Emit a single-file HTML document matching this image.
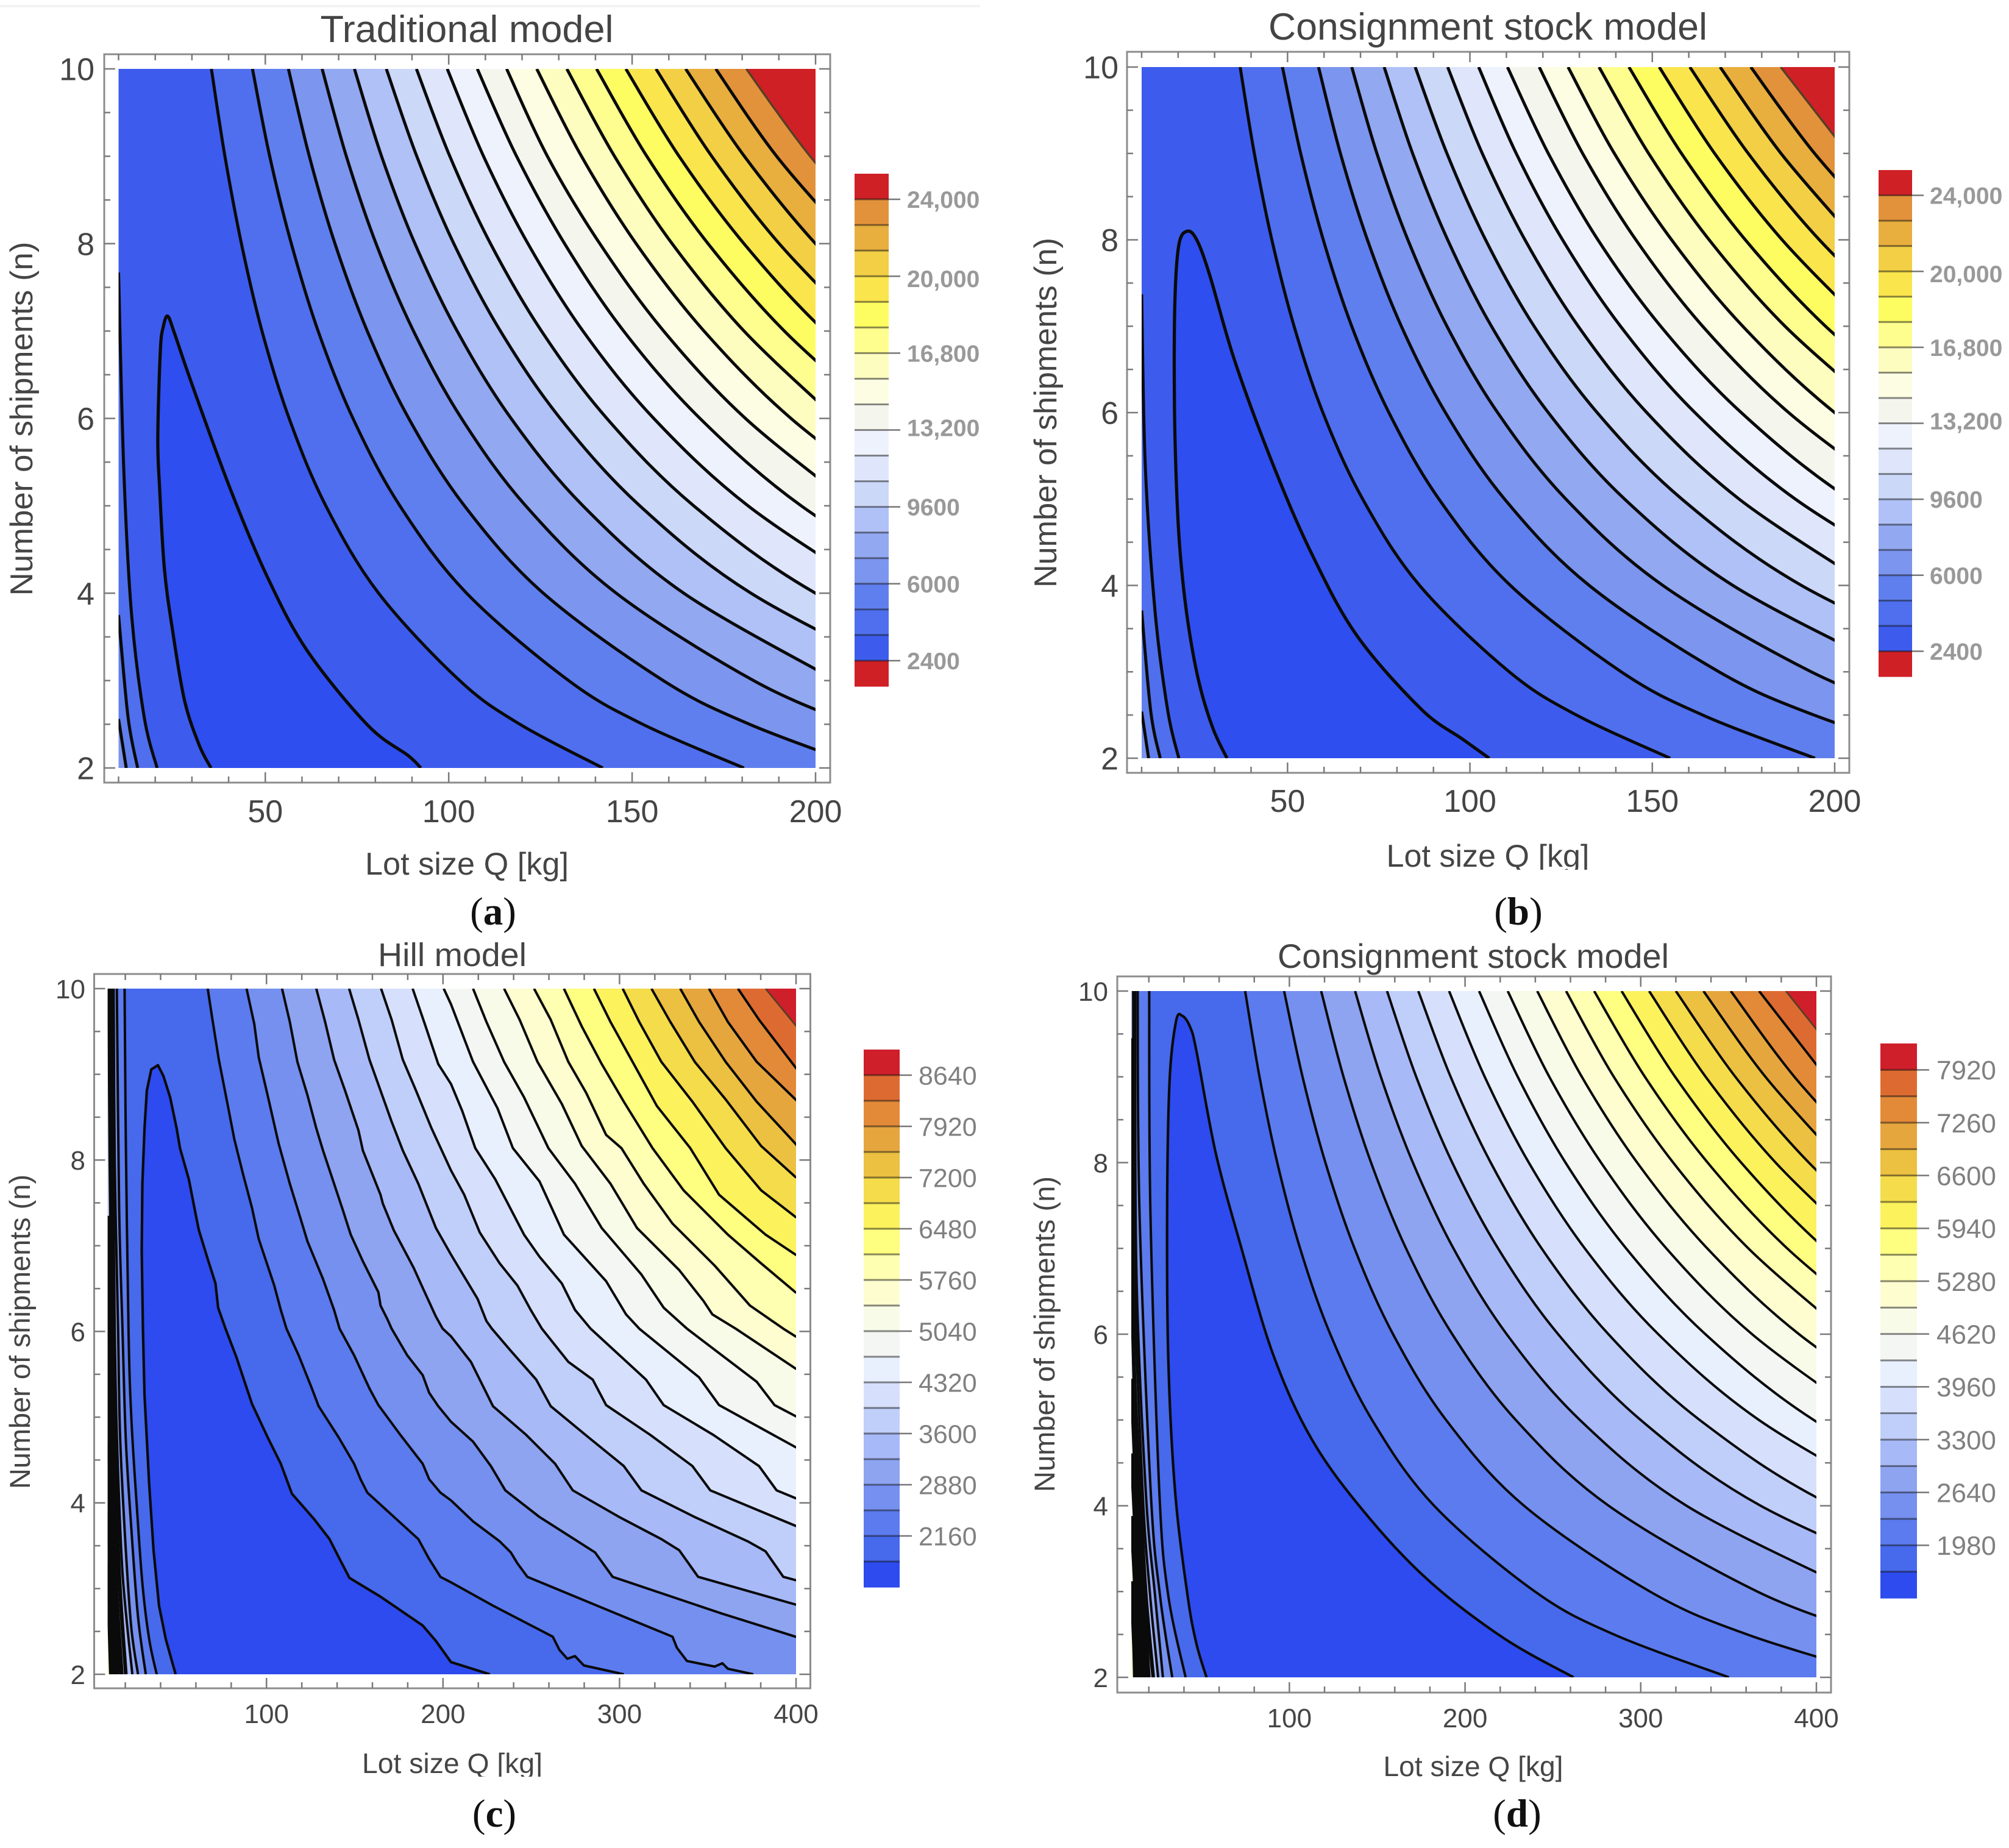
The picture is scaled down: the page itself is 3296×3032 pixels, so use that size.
<!DOCTYPE html>
<html lang="en">
<head>
<meta charset="utf-8">
<title>Contour plots of total cost by lot size and number of shipments</title>
<style>
html,body{margin:0;padding:0;background:#fff;}
svg{display:block;}
text{font-family:"Liberation Sans",sans-serif;}
.ttl{fill:#444;}
.axl{fill:#454545;}
.cap{font-family:"Liberation Serif",serif;fill:#111;font-size:65px;}
</style>
</head>
<body>
<svg id="chart" xmlns="http://www.w3.org/2000/svg" width="3296" height="3032" viewBox="0 0 3296 3032">
<defs>
<clipPath id="clip-a"><rect x="194.5" y="113" width="1143.5" height="1147"/></clipPath>
<clipPath id="clip-b"><rect x="1873" y="110" width="1137" height="1134"/></clipPath>
<clipPath id="clip-c"><rect x="176.6" y="1622" width="1129.4" height="1125"/></clipPath>
<clipPath id="clip-d"><rect x="1856" y="1626" width="1124" height="1126"/></clipPath>
<clipPath id="clip-label-b"><rect x="2200" y="1370" width="500" height="57"/></clipPath>
<clipPath id="clip-label-c"><rect x="500" y="2860" width="500" height="55"/></clipPath>
</defs>
<rect x="0" y="8" width="1608" height="4" fill="#f3f3f3"/>

<g id="panel-a">
<text class="ttl" x="766" y="69" font-size="62" text-anchor="middle" textLength="481" lengthAdjust="spacingAndGlyphs">Traditional model</text>
<text class="axl" x="766" y="1435" font-size="52" text-anchor="middle" textLength="334" lengthAdjust="spacingAndGlyphs">Lot size Q [kg]</text>
<text class="axl" transform="translate(53 687) rotate(-90)" font-size="52" text-anchor="middle" textLength="581" lengthAdjust="spacingAndGlyphs">Number of shipments (n)</text>
<text class="cap" x="809" y="1517" text-anchor="middle">(<tspan font-weight="bold">a</tspan>)</text>
</g>
<g id="panel-b">
<text class="ttl" x="2441" y="65" font-size="62" text-anchor="middle" textLength="720" lengthAdjust="spacingAndGlyphs">Consignment stock model</text>
<text class="axl" x="2441" y="1422" font-size="52" text-anchor="middle" textLength="333" lengthAdjust="spacingAndGlyphs" clip-path="url(#clip-label-b)">Lot size Q [kg]</text>
<text class="axl" transform="translate(1733 677) rotate(-90)" font-size="52" text-anchor="middle" textLength="574" lengthAdjust="spacingAndGlyphs">Number of shipments (n)</text>
<text class="cap" x="2491" y="1517" text-anchor="middle">(<tspan font-weight="bold">b</tspan>)</text>
</g>
<g id="panel-c">
<text class="ttl" x="742" y="1585" font-size="54" text-anchor="middle" textLength="244" lengthAdjust="spacingAndGlyphs">Hill model</text>
<text class="axl" x="742" y="2909" font-size="46" text-anchor="middle" textLength="296" lengthAdjust="spacingAndGlyphs" clip-path="url(#clip-label-c)">Lot size Q [kg]</text>
<text class="axl" transform="translate(49 2185) rotate(-90)" font-size="47" text-anchor="middle" textLength="516" lengthAdjust="spacingAndGlyphs">Number of shipments (n)</text>
<text class="cap" x="811" y="2997" text-anchor="middle">(<tspan font-weight="bold">c</tspan>)</text>
</g>
<g id="panel-d">
<text class="ttl" x="2417" y="1588" font-size="56" text-anchor="middle" textLength="642" lengthAdjust="spacingAndGlyphs">Consignment stock model</text>
<text class="axl" x="2417" y="2914" font-size="46" text-anchor="middle" textLength="295" lengthAdjust="spacingAndGlyphs">Lot size Q [kg]</text>
<text class="axl" transform="translate(1730 2189) rotate(-90)" font-size="47" text-anchor="middle" textLength="518" lengthAdjust="spacingAndGlyphs">Number of shipments (n)</text>
<text class="cap" x="2489" y="2997" text-anchor="middle">(<tspan font-weight="bold">d</tspan>)</text>
</g>
</svg>
<script>
// Shipment counts at which each contour's lot size Q was read
const nGrid = [10,9,8,7,6,5,4,3,2.5,2];

// Panel a: Q per contour, lowest level first
const tradContours = [
[35.3,39,43.5,49.1,56.5,66.5,80.9,103,119.4,142],
[46.5,51.2,57.1,64.4,73.9,86.7,104.9,132.7,152.9,180.5],
[56.3,62,69,77.8,89.1,104.3,125.8,158.5,182,213.9],
[65.5,72.1,80.2,90.4,103.5,121,145.7,183.1,210],
[74.3,81.7,90.8,102.3,117,136.6,164.1,205.6],
[83,91.3,101.4,114.1,130.4,152.1,182.4,227.9],
[91.2,100.3,111.4,125.3,143.1,166.8,200,249.6],
[99.6,109.5,121.6,136.6,155.9,181.6,217.3],
[107.8,118.5,131.6,147.7,168.5,196.1,234.4],
[115.8,126.9,141.2,158.6,180.9,210.5],
[124,136.2,151.1,169.6,193.3,224.7],
[132.2,145.2,160.9,180.5,205.6],
[140.3,154,170.7,191.5,218],
[148.3,162.8,180.5,202.4,230.5],
[156.5,171.7,190.1,213],
[164.6,180.6,200,224.1],
[172.8,189.4,210.2],
[181.1,198.5,219.5]
];
const tradLoop = [[92.4,2],[89,2.14],[77.9,2.49],[61.3,3.35],[50.3,4.21],[40.3,5.21],[30.1,6.38],[25.2,6.98],[23.4,7.17],[22.2,7.05],[21.4,6.78],[20.7,5.78],[21.2,5.2],[22.5,4.28],[24.7,3.58],[28,2.77],[32,2.26],[35.2,2]];
const tradLeft = [
[[10,7.67],[11.4,5.45],[13.5,3.78],[17,2.58],[20.5,2]],
[[10,3.75],[12.6,2.58],[15.2,2]],
[[10,2.56],[12.1,2]]
];
const tradBarLabels = ['24,000','20,000','16,800','13,200','9600','6000','2400'];

// Panel b
const csAContours = [
[37,40.9,45.7,51.8,59.7,70.6,86.2,110.8,129.2,154.9],
[48.6,53.6,59.8,67.6,77.8,91.5,111.1,141.5,163.8,194.6],
[58.5,64.5,71.9,81.2,93.3,109.5,132.7,168.3,194.3,229.9],
[67.6,74.5,83,93.7,107.6,126.3,152.9,193.6,223.4],
[76.5,84.3,93.9,105.9,121.5,142.4,172.1,217.4],
[85,93.7,104.3,117.6,134.9,158.1,190.9,240.8],
[93.9,103.4,115.1,129.7,148.5,173.8,209.4],
[102.4,112.7,125.4,141.3,161.7,189.2,227.8],
[110.3,121.5,135.1,152.3,174.4,204.1,245.9],
[119,130.9,145.5,163.8,187.4,218.8],
[126.9,139.6,155.3,174.8,200,233.7],
[135.4,149,165.6,186.4,213.2],
[143.6,158,175.5,197.5,225.8],
[151.9,167.1,185.6,208.7],
[160.3,176.3,195.8,220.2],
[168.6,185.3,205.7],
[177,194.5,215.8],
[185.2,203.6]
];
const csALoop = [[105.3,2],[98,2.22],[86.6,2.57],[69,3.42],[56.7,4.36],[46.2,5.38],[35.6,6.59],[28.6,7.6],[25.1,8],[22.5,8.1],[20.2,7.94],[19.1,7.27],[19,6.05],[19.6,5.1],[20.6,4.36],[22.6,3.6],[25.6,2.9],[29.5,2.35],[33.4,2]];
const csALeft = [
[[10,7.37],[11,5.38],[13.7,3.69],[17.2,2.54],[20.2,2]],
[[10,3.71],[12.5,2.54],[15.1,2]],
[[10,2.54],[11.9,2]]
];
const csABarLabels = ['24,000','20,000','16,800','13,200','9600','6000','2400'];

// Panel c: [Q, n] points per contour, lowest level first
const hillContours = [
[[66.7,10],[69.2,9.663],[73,9.172],[77.4,8.707],[81.8,8.241],[86.8,7.828],[91.8,7.44],[95.6,7.078],[104.4,6.535],[108.1,6.25],[111.3,6.033],[118.2,5.723],[125.7,5.335],[129.5,5.128],[140.8,4.766],[149.6,4.456],[153.3,4.275],[157.1,4.12],[170.9,3.861],[186,3.577],[192.2,3.344],[198.5,3.137],[204.5,3.073],[228.3,2.801],[262.2,2.439],[266,2.284],[270.4,2.181],[274.8,2.212],[279.8,2.103],[302.4,2]],
[[88.7,10],[93.1,9.586],[95.6,9.198],[100.6,8.758],[106.9,8.19],[113.2,7.724],[119.4,7.31],[123.2,7.052],[132,6.613],[138.3,6.25],[141.4,6.033],[149.6,5.723],[158.3,5.335],[163.4,5.141],[175.9,4.792],[188.5,4.456],[192.2,4.275],[198.5,4.12],[204.5,4.029],[217,3.784],[232.1,3.551],[238.4,3.422],[242.2,3.293],[247.8,3.137],[302.4,2.672],[330,2.439],[332.5,2.31],[338.2,2.155],[353.9,2.09],[358.3,2.129],[361.4,2.065],[375.8,2]],
[[108.8,10],[113.2,9.612],[117.5,9.146],[123.2,8.758],[128.2,8.37],[132,8.112],[138.3,7.724],[143.3,7.414],[147.7,7.13],[154.6,6.819],[163.4,6.457],[164.6,6.302],[168.4,6.147],[170.9,6.033],[179.7,5.723],[188.5,5.49],[192.2,5.283],[197.3,5.128],[204.5,4.947],[217,4.714],[227.1,4.43],[235.3,4.146],[254.7,3.835],[286.1,3.422],[296.1,3.137],[357.6,2.711],[399.7,2.439],[405,2.4]],
[[128.2,10],[133.2,9.612],[138.3,9.172],[144.5,8.81],[152.1,8.345],[154.6,8.112],[164.6,7.595],[165.9,7.492],[172.1,7.181],[183.4,6.742],[188.5,6.509],[196,6.173],[199.8,6.033],[204.5,5.943],[215.8,5.645],[223.3,5.335],[228.3,5.128],[247.2,4.792],[263.5,4.456],[273.5,4.146],[299.9,3.835],[323.7,3.577],[333.8,3.448],[344.5,3.137],[399.7,2.814],[405,2.8]],
[[146.8,10],[152.1,9.637],[158.3,9.172],[164.6,8.81],[170.9,8.448],[177.2,8.112],[186,7.724],[196,7.207],[204.5,6.897],[219.6,6.38],[224.6,6.121],[227.7,6.033],[238.4,5.774],[252.8,5.438],[261,5.128],[282.3,4.766],[302.4,4.43],[312.4,4.146],[342.6,3.835],[372.7,3.551],[382.7,3.435],[392.8,3.137],[399.7,3.099],[405,3.08]],
[[164.9,10],[170.9,9.637],[177.2,9.172],[184.7,8.81],[193.5,8.37],[204.5,7.879],[212,7.595],[220.8,7.155],[232.1,6.794],[242.2,6.535],[249.7,6.251],[256,6.033],[271,5.645],[284.8,5.438],[292.4,5.141],[317.5,4.792],[341.3,4.43],[351.4,4.146],[399.7,3.732],[405,3.7]],
[[182.8,10],[189.7,9.586],[197.3,9.12],[204.5,8.888],[210.8,8.577],[218.3,8.138],[229.6,7.776],[245.9,7.13],[254.7,6.871],[267.3,6.561],[274.8,6.251],[283.6,6.033],[315,5.438],[325,5.141],[353.2,4.792],[379,4.43],[389,4.146],[399.7,4.055],[405,4.03]],
[[200.4,10],[204.5,9.818],[217,9.146],[230.9,8.603],[239.6,8.138],[254.7,7.75],[268.5,7.13],[292.4,6.587],[303.7,6.199],[311.2,6.033],[345.1,5.464],[356.4,5.141],[399.7,4.65],[405,4.62]],
[[217,10],[224.6,9.611],[234.6,9.146],[245.9,8.733],[259.7,8.138],[274.8,7.724],[289.9,7.207],[312.4,6.664],[325,6.277],[338.2,6.033],[377.7,5.413],[387.8,5.141],[399.7,5.012],[405,4.97]],
[[234.6,10],[243.4,9.637],[253.5,9.146],[267.3,8.655],[278.6,8.164],[294.9,7.724],[309.9,7.207],[333.8,6.716],[347.6,6.354],[352.6,6.199],[365.8,6.033],[399.7,5.568],[405,5.53]],
[[251.6,10],[261,9.637],[271,9.146],[281.1,8.784],[292.4,8.293],[301.1,8.138],[313.7,7.724],[330,7.259],[353.9,6.768],[373.9,6.302],[392.8,6.033],[399.7,5.943],[405,5.9]],
[[268.5,10],[278.6,9.56],[289.9,9.12],[302.4,8.681],[318.7,8.138],[336.3,7.647],[361.4,7.129],[380.2,6.794],[399.7,6.457],[405,6.41]],
[[285.5,10],[294.9,9.611],[307.4,9.146],[321.2,8.629],[340.1,8.138],[356.4,7.595],[382.7,7.13],[399.7,6.897],[405,6.85]],
[[301.8,10],[311.2,9.611],[323.7,9.146],[341.3,8.681],[360.1,8.138],[380.2,7.647],[399.7,7.336],[405,7.29]],
[[318.1,10],[328.8,9.611],[342.6,9.146],[360.1,8.707],[380.2,8.164],[399.7,7.802],[405,7.76]],
[[334.4,10],[345.1,9.611],[360.1,9.146],[377.7,8.681],[399.7,8.19],[405,8.05]],
[[350.7,10],[361.4,9.611],[377.7,9.146],[399.7,8.707],[405,8.6]],
[[367.1,10],[379,9.637],[399.7,9.081],[405,8.95]],
[[382.7,10],[399.7,9.573],[405,9.44]]
];
const hillLoop = [[226.5,2],[204.5,2.142],[196,2.388],[188.5,2.569],[164.6,2.905],[147,3.125],[140.8,3.37],[135.7,3.577],[127,3.81],[114.4,4.107],[108.1,4.456],[100.6,4.766],[91.8,5.154],[88,5.387],[83,5.697],[76.8,6.033],[72.6,6.276],[71.1,6.561],[66.7,6.845],[61.7,7.181],[60.4,7.31],[56,7.776],[51,8.138],[49.1,8.37],[45.4,8.733],[41.6,8.98],[38.5,9.107],[34.7,9.056],[32.2,8.81],[30.9,8.37],[29.7,7.724],[29.3,6.949],[30,6.033],[30.9,5.257],[33.5,4.223],[36,3.448],[39.1,2.801],[42.9,2.413],[48.5,2]];
const hillLeft = [
[[19.6,10],[20.3,8.24],[21.8,6.033],[23.4,5],[26.5,3.965],[29.7,3.06],[33.5,2.413],[37.8,2]],
[[15.2,10],[16.5,7.46],[18.4,6.033],[20.3,4.74],[23.4,3.706],[27.2,2.672],[31.6,2]],
[[13.4,10],[14,7.98],[15.9,6.033],[17.1,4.74],[20.3,3.448],[23.4,2.543],[27.2,2]],
[[12.1,10],[13,8],[14,6.033],[15.3,4.74],[18.4,3.19],[24,2]],
[[10.9,10],[11.5,8],[12.7,6.033],[14,4.74],[16.5,3.19],[20.3,2]],
[[10,7.35],[11,6.03],[12.5,4.7],[14.5,3.2],[18,2]],
[[10,6],[10.8,4.7],[13,3.2],[16,2]],
[[10,4.7],[11.5,3.2],[14.5,2]],
[[10,3.9],[10.8,3],[13,2]],
[[10,3.3],[11.8,2]]
];
const hillBarLabels = ['8640','7920','7200','6480','5760','5040','4320','3600','2880','2160'];

// Panel d
const csBContours = [
[74.8,83,93.1,106.1,123.3,147.1,182.4,239.8,284.7,350.2],
[97,107.5,120.5,137.1,159,189.2,233.6,305.3,360.6,440],
[118.1,130.8,146.5,166.4,192.7,228.9,281.8,366.4,431],
[137.4,152.1,170.3,193.4,223.7,265.4,326.1,422.8],
[155.6,172.2,192.7,218.8,253,300,368.3,477],
[173.4,191.8,214.6,243.6,281.6,333.6,409.3,529],
[190.9,211.2,236.3,268.2,310,367.3,450.6],
[208,230,257.2,291.7,336.8,398.5,487.9],
[224.3,248,277.4,314.6,363.4,430.1],
[241.1,266.5,298,337.9,390.1,461.4],
[257.5,284.7,318.5,361.3,417.4],
[273.5,302.4,338.1,383.4,442.6],
[289.1,319.6,357.2,404.8,467],
[304.8,337,376.8,427.3],
[320,353.9,395.7,448.9],
[335.7,371,414.6],
[351.3,387.5,432],
[367.4,405.4],
[382.6,421.6]
];
const csBLoop = [[261.8,2],[221.8,2.46],[178.1,3.15],[141.7,3.95],[112.6,4.78],[90.8,5.76],[72.6,7.01],[58,8.12],[47.1,9.3],[43.5,9.58],[39.1,9.71],[35.5,9.65],[31.8,8.95],[30.4,7.42],[31.1,5.69],[35,4.15],[42,2.96],[47,2.4],[52.8,2]];
const csBLeft = [
[[20.2,10],[20.9,7.42],[26,4.15],[31,2.96],[40.9,2]],
[[13.6,10],[14.7,7.42],[21.1,4.15],[26.3,2.96],[33.3,2]],
[[12.2,10],[12.9,6.73],[18.3,4.15],[23.5,2.96],[28,2]],
[[11.1,10],[11.8,6.73],[16.5,4.15],[20.7,2.96],[25.3,2]],
[[10,9.45],[11.1,6.03],[15,4.15],[18.3,2.96],[22.5,2]],
[[10,6.9],[12,5.2],[14,4.15],[17,2.96],[20,2]],
[[10,5.48],[12.8,4.15],[15.8,2.96],[18,2]],
[[10,4.61],[11.2,4.15],[14,2.96],[16,2]],
[[10,3.88],[12.3,2.96],[14,2]],
[[10,3.12],[11.5,2.4],[12,2]]
];
const csBBarLabels = ['7920','7260','6600','5940','5280','4620','3960','3300','2640','1980'];

// Axis tick labels
const yTickValues = [2,4,6,8,10];
const xTicksSmall = [50,100,150,200];
const xTicksLarge = [100,200,300,400];

// Colour bands, lowest level first
const paletteAB = ['#2f4eef','#3d5cee','#4f6fee','#607fee','#7c95ee','#92a8f0','#afc1f6','#cbd8f8','#dfe6fb','#eef2fd','#f4f6ee','#fcfde3','#fdfdc0','#fefe8f','#fdfd62','#fbe54d','#f2cf45','#e8ae3e','#e2923b','#cf2026'];
const paletteCD = ['#2d4bee','#4769ec','#5c7bee','#7590ef','#8ea4f0','#a8b9f7','#c0cffa','#d6e0fc','#e8f0fe','#f4f6f4','#f8fbe8','#fdfdd0','#feffb0','#fefe80','#fcf25c','#f5dc4a','#ecc040','#e6a63e','#e28a38','#dd6b31','#cf1f2a'];

const NS = 'http://www.w3.org/2000/svg';
function make(tag, attrs, parent){
  const e = document.createElementNS(NS, tag);
  for (const k in attrs) e.setAttribute(k, attrs[k]);
  parent.appendChild(e);
  return e;
}
function smooth(pts){
  let d = 'M' + pts[0][0].toFixed(1) + ' ' + pts[0][1].toFixed(1);
  for (let i = 0; i < pts.length - 1; i++){
    const p0 = pts[Math.max(0, i-1)], p1 = pts[i], p2 = pts[i+1], p3 = pts[Math.min(pts.length-1, i+2)];
    const c1x = p1[0] + (p2[0]-p0[0])/6, c1y = p1[1] + (p2[1]-p0[1])/6;
    const c2x = p2[0] - (p3[0]-p1[0])/6, c2y = p2[1] - (p3[1]-p1[1])/6;
    d += 'C' + c1x.toFixed(1) + ' ' + c1y.toFixed(1) + ' ' + c2x.toFixed(1) + ' ' + c2y.toFixed(1) + ' ' + p2[0].toFixed(1) + ' ' + p2[1].toFixed(1);
  }
  return d;
}
function poly(pts){
  return 'M' + pts.map(p => p[0].toFixed(1) + ' ' + p[1].toFixed(1)).join('L');
}

function drawPanel(c){
  const root = document.getElementById(c.id);
  const X = q => c.px0 + (q - 10) / (c.qMax - 10) * (c.px1 - c.px0);
  const Y = n => c.py1 - (n - 2) / 8 * (c.py1 - c.py0);
  const rowPts = row => Array.isArray(row[0]) ? row.map(p => [X(p[0]), Y(p[1])]) : row.map((q, j) => [X(q), Y(nGrid[j])]);
  const trace = c.linear ? poly : smooth;

  const frame = make('rect', {x:c.fx0, y:c.fy0, width:c.fx1-c.fx0, height:c.fy1-c.fy0, fill:'#fff', stroke:'#8c8c8c', 'stroke-width':3}, root);
  
  

  const plot = make('g', {'clip-path':'url(#' + c.clip + ')'}, root);
  
  

  const base = make('rect', {x:c.px0, y:c.py0, width:c.px1-c.px0, height:c.py1-c.py0, fill:c.palette[1]}, plot);
  
  

  const far = c.qMax * 1.6;
  c.contours.forEach((row, i) => {
    const color = c.palette[i + 2];
    const pts = rowPts(row);
    const lastY = pts[pts.length-1][1];
    const band = make('path', {d: trace(pts) + 'L' + X(far) + ' ' + lastY + 'L' + X(far) + ' ' + Y(10) + 'Z', fill: color}, plot);
    
    
    const left = c.left[i];
    if (left){
      const lp = left.map(p => [X(p[0]), Y(p[1])]);
      const lband = make('path', {d: smooth(lp) + 'L' + X(0) + ' ' + Y(2) + 'L' + X(0) + ' ' + Y(10) + 'Z', fill: color}, plot);
      
      
    }
  });
  c.contours.forEach((row, i) => {
    const pts = rowPts(row);
    const top = i === c.contours.length - 1;
    const line = make('path', {d: trace(pts), fill:'none', stroke: top ? '#5a3d26' : '#0a0a0a', 'stroke-width': top ? c.lw*0.7 : c.lw, 'stroke-linejoin':'round'}, plot);
    
    
    const left = c.left[i];
    if (left){
      const lp = left.map(p => [X(p[0]), Y(p[1])]);
      const lline = make('path', {d: smooth(lp), fill:'none', stroke:'#0a0a0a', 'stroke-width': i >= 4 ? c.lw*1.5 : c.lw}, plot);
      
      
    }
  });
  const lpts = c.loop.map(p => [X(p[0]), Y(p[1])]);
  const loopFill = make('path', {d: trace(lpts) + 'Z', fill:c.palette[0]}, plot);
  
  
  const loop = make('path', {d: trace(lpts), fill:'none', stroke:'#0a0a0a', 'stroke-width':c.lw*1.05, 'stroke-linejoin':'round'}, plot);
  
  

  // x ticks
  for (let q = c.xStep === 10 ? 10 : c.xStep; q <= c.qMax; q += c.xStep){
    const major = c.xTicks.includes(q);
    const len = major ? 17 : 10;
    [[c.fy1, c.fy1-len],[c.fy0, c.fy0+len]].forEach(s => {
      const t = make('line', {x1:X(q), x2:X(q), y1:s[0], y2:s[1], stroke:'#7a7a7a', 'stroke-width':2.5}, root);
      
      
    });
  }
  c.xTicks.forEach(q => {
    const t = make('text', {x:X(q), y:c.xLabelY, 'font-size':c.tickSize, 'text-anchor':'middle', fill:'#454545'}, root);
    
    
    t.textContent = q;
  });
  // y ticks
  for (let n = 2; n <= 10; n += 0.5){
    const major = yTickValues.includes(n);
    const len = major ? 18 : 10;
    [[c.fx0, c.fx0+len],[c.fx1, c.fx1-len]].forEach(s => {
      const t = make('line', {y1:Y(n), y2:Y(n), x1:s[0], x2:s[1], stroke:'#7a7a7a', 'stroke-width':2.5}, root);
      
      
    });
  }
  yTickValues.forEach(n => {
    const t = make('text', {x:c.yLabelX, y:Y(n) + c.tickSize*0.36, 'font-size':c.tickSize, 'text-anchor':'end', fill:'#454545'}, root);
    
    
    t.textContent = n;
  });

  // colour bar
  const bar = make('g', {}, root);
  
  
  const segs = c.barColors.length;
  const segH = c.barH / segs;
  c.barColors.forEach((col, i) => {
    const s = make('rect', {x:c.barX, y:c.barY + i*segH, width:c.barW, height:segH + 0.6, fill:col}, bar);
    
    
  });
  for (let i = 1; i < segs; i++){
    const l = make('line', {x1:c.barX, x2:c.barX+c.barW, y1:c.barY+i*segH, y2:c.barY+i*segH, stroke:'rgba(20,20,20,0.5)', 'stroke-width':3}, bar);
    
    
  }
  c.barLabels.forEach((txt, i) => {
    const yy = c.barY + (1 + i*c.barEvery)*segH;
    const tk = make('line', {x1:c.barX+c.barW, x2:c.barTickX, y1:yy, y2:yy, stroke:'#777', 'stroke-width':2.5}, bar);
    
    
    const nudge = c.barEvery === 3 ? (i === 1 ? 4 : (i === 3 ? -4 : 0)) : 0;
    const t = make('text', {x:c.barLabelX, y:yy + nudge + c.barFont*0.36, 'font-size':c.barFont, 'font-weight':c.barWeight, fill:c.barFill}, bar);
    
    
    t.textContent = txt;
  });
}

const barAB = [paletteAB[19]].concat(paletteAB.slice(1,19).reverse(), [paletteAB[19]]);
const barCD = paletteCD.slice().reverse();

drawPanel({id:'panel-a', clip:'clip-a', contours:tradContours, loop:tradLoop, left:tradLeft, palette:paletteAB, qMax:200,
  px0:194.5, px1:1338, py0:113, py1:1260, fx0:171, fx1:1362, fy0:89, fy1:1284, lw:5, xStep:10, xTicks:xTicksSmall, tickSize:52, xLabelY:1349, yLabelX:155,
  barColors:barAB, barLabels:tradBarLabels, barEvery:3, barX:1402, barW:56, barY:285, barH:841, barTickX:1477, barLabelX:1488, barFont:39, barWeight:'bold', barFill:'#999'});
drawPanel({id:'panel-b', clip:'clip-b', contours:csAContours, loop:csALoop, left:csALeft, palette:paletteAB, qMax:200,
  px0:1873, px1:3010, py0:110, py1:1244, fx0:1849, fx1:3034, fy0:85, fy1:1268, lw:5, xStep:10, xTicks:xTicksSmall, tickSize:52, xLabelY:1332, yLabelX:1835,
  barColors:barAB, barLabels:csABarLabels, barEvery:3, barX:3082, barW:55, barY:279, barH:831, barTickX:3156, barLabelX:3166, barFont:39, barWeight:'bold', barFill:'#999'});
drawPanel({id:'panel-c', clip:'clip-c', linear:true, contours:hillContours, loop:hillLoop, left:hillLeft, palette:paletteCD, qMax:400,
  px0:176.6, px1:1306, py0:1622, py1:2747, fx0:154.5, fx1:1329.5, fy0:1598, fy1:2770, lw:4, xStep:20, xTicks:xTicksLarge, tickSize:44, xLabelY:2827, yLabelX:140,
  barColors:barCD, barLabels:hillBarLabels, barEvery:2, barX:1417, barW:59, barY:1722, barH:882, barTickX:1496, barLabelX:1507, barFont:43, barWeight:'normal', barFill:'#808080'});
drawPanel({id:'panel-d', clip:'clip-d', contours:csBContours, loop:csBLoop, left:csBLeft, palette:paletteCD, qMax:400,
  px0:1856, px1:2980, py0:1626, py1:2752, fx0:1833, fx1:3004, fy0:1602, fy1:2777, lw:4, xStep:20, xTicks:xTicksLarge, tickSize:44, xLabelY:2834, yLabelX:1818,
  barColors:barCD, barLabels:csBBarLabels, barEvery:2, barX:3085, barW:60, barY:1712, barH:910, barTickX:3165, barLabelX:3177, barFont:44, barWeight:'normal', barFill:'#808080'});
</script>
</body>
</html>
